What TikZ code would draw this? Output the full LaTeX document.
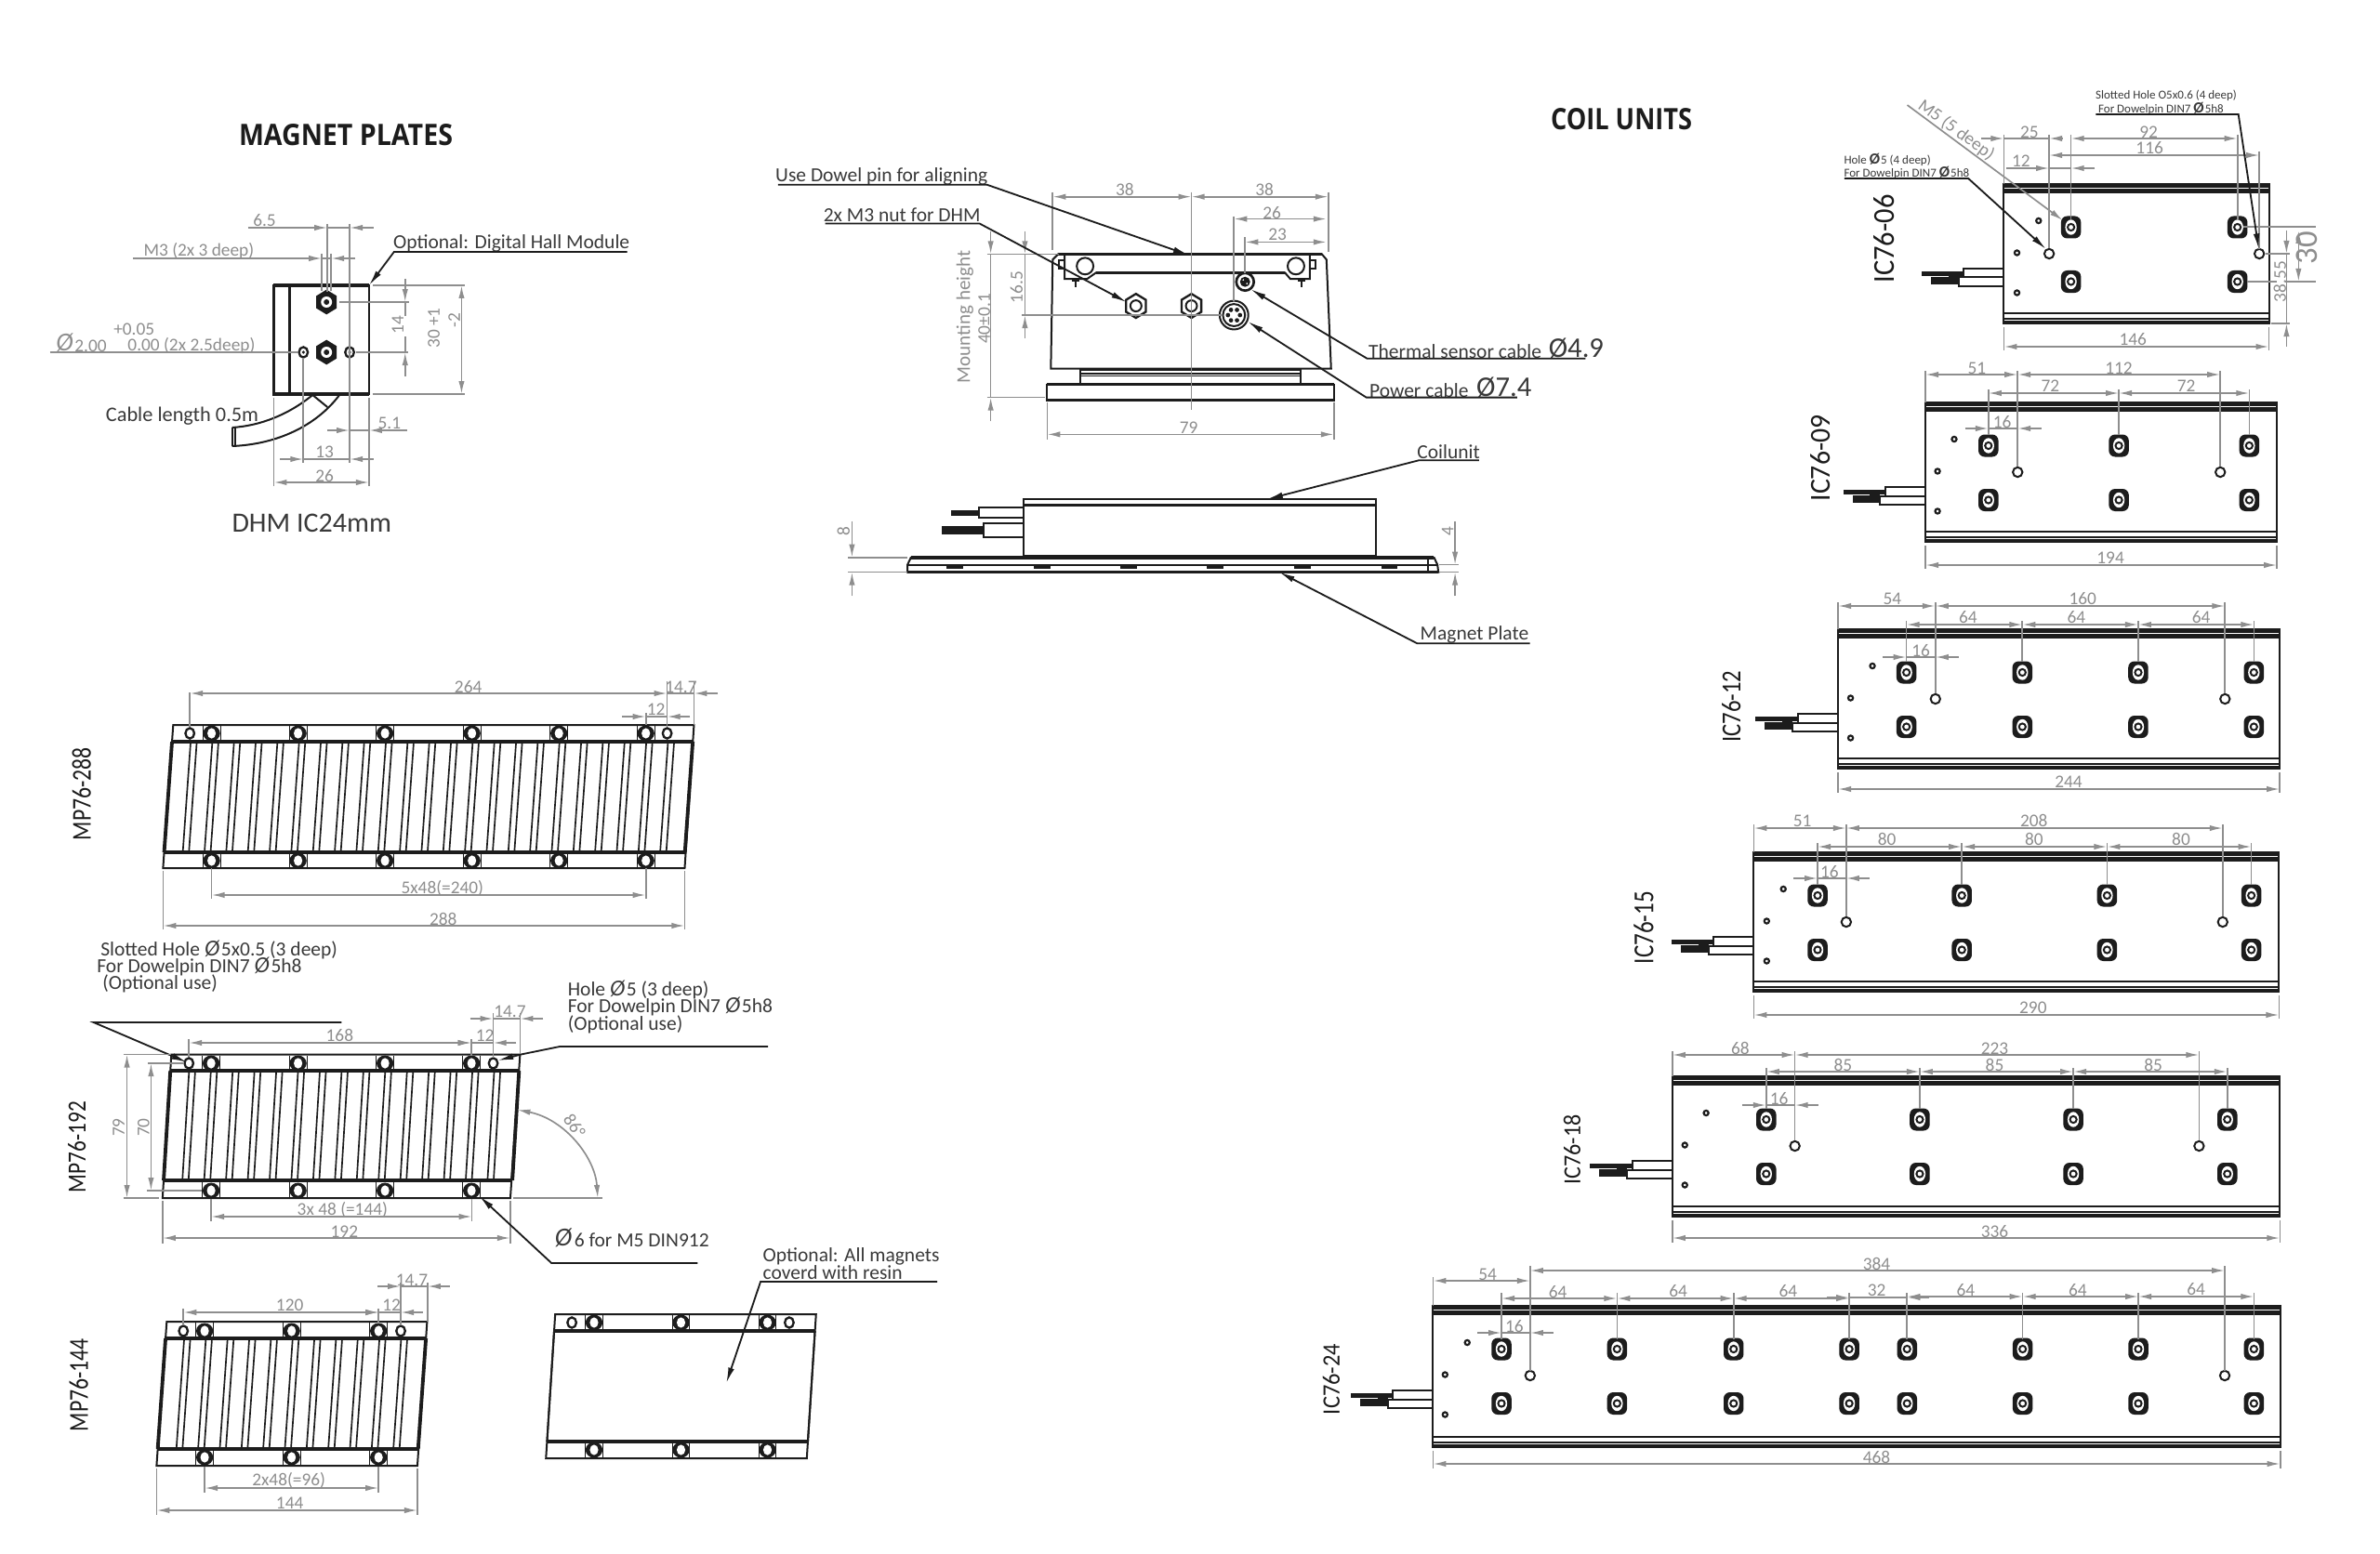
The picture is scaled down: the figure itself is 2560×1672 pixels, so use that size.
\documentclass[tikz,border=0pt]{standalone}
\usepackage{fontspec}
\usepackage{graphicx}
\usetikzlibrary{arrows.meta}
\setmainfont{Carlito}
\newfontfamily\rktitle{Open Sans}
\definecolor{dimc}{HTML}{8E8E8E}
\definecolor{inkc}{HTML}{1C1C1C}
\definecolor{txtc}{HTML}{3A3A3A}
\newcounter{rkn}
\tikzset{
 rkd/.tip={Latex[length=4.2pt,width=1.9pt]},
 rkb/.tip={Latex[length=5pt,width=2pt]},
 gl/.style={draw=dimc,line width=.5pt},
 dm/.style={gl,rkd-rkd},
 pk/.style={draw=inkc,line width=.6pt},
 hv/.style={draw=inkc,line width=.95pt},
 lead/.style={draw=inkc,line width=.55pt},
 rib/.style={draw=inkc,line width=.5pt},
 dimt/.style={text=dimc,inner sep=0pt,font=\fontsize{5.8}{6}\selectfont},
 blkt/.style={text=txtc,inner sep=0pt,font=\fontsize{6.45}{7.6}\selectfont},
 zoomA/.style={shift={(0,0)},xscale=.9949},
 zoomB/.style={shift={(4.08,.77)},xscale=.9949,yscale=.9949},
 zoomC/.style={shift={(.26,0)},xscale=.9949},
 zoomE/.style={shift={(9.95,0)},xscale=.9949},
 zoomF/.style={shift={(9.69,0)},xscale=.9949},
 zoomG/.style={shift={(8.98,0)},xscale=.9949},
 zoomH/.style={shift={(7.24,0)},xscale=.9949},
 zoomI/.style={shift={(8.47,0)},xscale=.9949},
}
\newcommand\rkPh{{\fontsize{7.4}{7}\selectfont\itshape Ø}}
\newcommand\rkPs{{\fontsize{5}{5}\selectfont\bfseries Ø}}
\newcommand\rkPx[1]{\dimexpr #1pt*3/10\relax}
% text helpers
\newcommand\rkD[4][]{\stepcounter{rkn}\node[dimt,#1] (n\arabic{rkn}) at (#2,#3) {#4};}
\newcommand\rkB[4][]{\stepcounter{rkn}\node[blkt,#1] (n\arabic{rkn}) at (#2,#3) {#4};}
\newcommand\rkLab[5]{\stepcounter{rkn}\node[inner sep=0pt,text=inkc,rotate=90] (n\arabic{rkn}) at (#1,#2) {\resizebox{\rkPx{#3}}{\rkPx{#4}}{#5}};}
% dimension helpers
\newcommand\rkDH[3]{\draw[dm] (#2,#1) -- (#3,#1);}
\newcommand\rkDV[3]{\draw[dm] (#1,#2) -- (#1,#3);}
\newcommand\rkDHo[5]{\draw[gl,-rkd] (#2,#1) -- (#3,#1);\draw[gl,-rkd] (#5,#1) -- (#4,#1);\draw[gl] (#3,#1) -- (#4,#1);}
\newcommand\rkDVo[5]{\draw[gl,-rkd] (#1,#2) -- (#1,#3);\draw[gl,-rkd] (#1,#5) -- (#1,#4);}
\newcommand\rkE[4]{\draw[gl] (#1,#2) -- (#3,#4);}
% plate
\newcommand\rkPlate[8]{%
 \pgfmathsetmacro\rkS{(#1-#3)/(#8-#5)}%
 \pgfmathsetmacro\rkXa{#1-\rkS*(#6-#5)}%
 \pgfmathsetmacro\rkXb{#1-\rkS*(#7-#5)}%
 \pgfmathsetmacro\rkW{#2-#1}%
 \def\rkYa{#6}\def\rkYb{#7}%
 \draw[pk] (#1,#5) -- (#2,#5) -- (#4,#8) -- (#3,#8) -- cycle;
 \draw[hv] (\rkXa,#6) -- (\rkXa+\rkW,#6);
 \draw[hv] (\rkXb,#7) -- (\rkXb+\rkW,#7);
}
\newcommand\rkRibs[1]{%
 \pgfmathsetmacro\rkP{\rkW/#1}%
 \pgfmathtruncatemacro\rkNm{#1-1}%
 \draw[hv,line width=1.15pt] (\rkXa,\rkYa) -- (\rkXb,\rkYb);
 \draw[hv,line width=1.15pt] (\rkXa+\rkW,\rkYa) -- (\rkXb+\rkW,\rkYb);
 \foreach \i in {1,...,\rkNm}{%
  \pgfmathsetmacro\rkUa{\rkXa+\i*\rkP}%
  \pgfmathsetmacro\rkUb{\rkXb+\i*\rkP}%
  \draw[rib] (\rkUa-3.3,\rkYa) -- (\rkUb-3.3,\rkYb);
  \draw[rib] (\rkUa+3.3,\rkYa) -- (\rkUb+3.3,\rkYb);
 }%
}
\newcommand\rkBolts[4]{%
 \foreach \x in {#1}{%
  \draw[rib,line width=.3pt] (\x-9.5,#3) -- (\x-9.5,#4);
  \draw[rib,line width=.3pt] (\x+9.5,#3) -- (\x+9.5,#4);
  \fill[inkc] (\x,#2) circle[x radius=9.2,y radius=8.4];
  \fill[white] (\x,#2) circle[x radius=4.6,y radius=5.6];
 }%
}
\newcommand\rkSmh[2]{\draw[hv,line width=.7pt,fill=white] (#1,#2) circle[x radius=4.8,y radius=5.6];}
% coil
\newcommand\rkCoil[8]{% xl xr yt yb pads d1,d2 sm1 sm2
 \draw[pk] (#1,#3) rectangle (#2,#4);
 \fill[inkc] (#1,#3-.5) rectangle (#2,#3+4);
 \draw[rib,line width=.5pt] (#1,#3+5.8) -- (#2,#3+5.8);
 \draw[hv,line width=.7pt] (#1,#3+8.5) -- (#2,#3+8.5);
 \draw[hv,line width=.7pt] (#1,#4-11) -- (#2,#4-11);
 \draw[rib,line width=.4pt] (#1,#4-5) -- (#2,#4-5);
 \fill[inkc] (#1,#4-3.5) rectangle (#2,#4+.5);
 \foreach \x in {#5}{\rkPad{\x}{#3+46.5}\rkPad{\x}{#3+105}}
 \foreach \x in {#6}{\draw[hv,line width=.6pt,fill=white] (\x,#3+75) circle[radius=5.2];}
 \rkTiny{#7}{#3+39.5}\rkTiny{#8}{#3+74}\rkTiny{#8}{#3+117}
 \draw[pk,fill=white] (#1-43.5,#3+91) rectangle (#1,#3+100.5);
 \draw[pk,fill=white] (#1-49,#3+100.5) rectangle (#1,#3+110);
 \fill[inkc] (#1-89,#3+94) rectangle (#1-43.5,#3+99);
 \fill[inkc] (#1-79,#3+99) rectangle (#1-49,#3+108);
 \draw[white,line width=.15pt] (#1-88,#3+99) -- (#1-60,#3+99);
}
\newcommand\rkPad[2]{%
 \fill[inkc,rounded corners=2pt] (#1-10.8,#2-12) rectangle (#1+10.8,#2+12);
 \fill[white] (#1,#2) circle[x radius=6.2,y radius=8.2];
 \draw[inkc,line width=.6pt,fill=white] (#1,#2) circle[radius=3.6];
}
\newcommand\rkTiny[2]{\draw[inkc,line width=.65pt,fill=white] (#1,#2) circle[radius=2.6];}
\newcommand\rkHex[4]{% x y r fill
 \draw[hv,line width=.7pt,fill=#4] (#1,#2-#3) -- (#1+.82*#3,#2-.5*#3) -- (#1+.82*#3,#2+.5*#3) -- (#1,#2+#3) -- (#1-.82*#3,#2+.5*#3) -- (#1-.82*#3,#2-.5*#3) -- cycle;
}
\begin{document}
\begin{tikzpicture}[x=0.3pt,y=-0.3pt]
\useasboundingbox (0,0) rectangle (2560,1672);
\fill[white] (0,0) rectangle (2560,1672);
% titles
\node[inner sep=0pt,text=inkc] (titleA) at (372,145) {\resizebox{\rkPx{230}}{\rkPx{23}}{\rktitle\bfseries MAGNET PLATES}};
\node[inner sep=0pt,text=inkc] (titleB) at (1744,128.5) {\resizebox{\rkPx{152}}{\rkPx{23}}{\rktitle\bfseries COIL UNITS}};
% ------------- DHM
\begin{scope}[zoomA]
\draw[pk] (296,307) rectangle (399,424);
\draw[hv,line width=1pt] (296,307) -- (296,424) -- (399,424);
\draw[hv] (296,307) -- (399,307);
\draw[hv,line width=1.1pt] (313,307) -- (313,424);
\draw[pk] (338,425) .. controls (312,446) and (282,458) .. (251,460);
\draw[pk] (367,425) .. controls (342,458) and (300,478) .. (251,480);
\draw[pk] (251,460) -- (251,480);\draw[pk] (254,460) -- (254,480);
\draw[pk] (338,425) -- (354,438);
\rkHex{353}{325}{12}{inkc}\fill[white] (353,325) circle[radius=6];\fill[inkc] (353,325) circle[radius=3];
\rkHex{353}{379}{12}{inkc}\fill[white] (353,379) circle[radius=6];\fill[inkc] (353,379) circle[radius=3];
\rkSmh{328}{379}\rkSmh{378}{379}
\fill[inkc] (328,379) circle[radius=1.8];\fill[inkc] (378,379) circle[radius=1.8];
\rkE{354}{241}{354}{314}\rkE{378}{241}{378}{498}
\rkE{348}{273}{348}{313}\rkE{358}{273}{358}{313}
\rkE{328}{385}{328}{498}
\rkDHo{245}{268}{354}{378}{404}
\rkDHo{278}{144}{348}{358}{384}
\rkD{286}{237}{6.5}
\rkD{215}{270}{M3 (2x 3 deep)}
\rkB{553}{262}{Optional: Digital Hall Module}
\draw[lead,-rkb] (678,271) -- (426,271) -- (399,307);
\rkE{403}{307}{503}{307}\rkE{403}{424}{503}{424}
\rkDV{499}{307}{424}
\rkD[rotate=90]{469}{353}{30 +1}
\rkD[rotate=90]{491}{345}{-2}
\rkE{367}{325}{442}{325}\rkE{385}{379}{441}{379}
\rkDVo{438}{300}{325}{379}{405}
\draw[gl] (438,325) -- (438,379);
\fill[white] (428,340) rectangle (444,362);
\rkD[rotate=90]{430}{350}{14}
\rkD{145}{354}{+0.05}
\rkB[text=dimc,font=\fontsize{8.4}{8}\selectfont\itshape]{70}{369}{Ø}
\rkD{98}{372}{2.00}
\rkD{207}{372}{0.00 (2x 2.5deep)}
\rkE{54}{379}{322}{379}
\rkB[font=\fontsize{6.7}{8}\selectfont]{197}{448}{Cable length 0.5m}
\rkE{296}{428}{296}{523}\rkE{399}{428}{399}{523}
\rkDHo{463}{354}{378}{399}{440}
\rkD{421}{455}{5.1}
\rkDHo{494}{303}{328}{378}{404}
\rkD{351}{486}{13}
\rkDH{519}{296}{399}
\rkD{351}{512}{26}
\rkB[font=\fontsize{9}{10}\selectfont]{337}{563}{DHM IC24mm}
\end{scope}
% ------------- Centre front view
\begin{scope}[zoomB]
\draw[pk] (1147,274) -- (1425,274) -- (1430,280) -- (1435,398) -- (1132,398) -- (1134,280) -- (1140,274) -- cycle;
\draw[hv,line width=.8pt] (1140,274) -- (1425,274);
\draw[pk] (1147,274) -- (1147,301) -- (1171,301) -- (1181,294) -- (1385,294) -- (1391,301) -- (1412,301) -- (1412,274);
\draw[hv,line width=.75pt] (1181,294) -- (1385,294);
\draw[pk] (1169,287) circle[x radius=9,y radius=9];
\draw[pk] (1397,287) circle[x radius=9,y radius=9];
\fill[inkc] (1155,301) rectangle (1163,304);\draw[pk] (1159,304) -- (1159,310);
\fill[inkc] (1399,301) rectangle (1407,304);\draw[pk] (1403,304) -- (1403,310);
\draw[pk] (1141,281) rectangle (1147,290);\draw[pk] (1412,281) rectangle (1418,290);
\draw[pk] (1164,399) rectangle (1402,415);
\draw[pk] (1165,403) -- (1401,403);\draw[rib,line width=.4pt] (1165,406) -- (1401,406);
\draw[pk] (1128,415) rectangle (1438,432);
\draw[hv,line width=.8pt] (1128,415) -- (1438,415);\draw[hv,line width=.8pt] (1128,432) -- (1438,432);
\rkHex{1224}{330}{13}{white}\draw[pk] (1224,330) circle[radius=6];
\rkHex{1284}{330}{13}{white}\draw[pk] (1284,330) circle[radius=6];
\draw[pk] (1330,340) circle[radius=15.5];\draw[pk] (1330,340) circle[radius=12];
\foreach \a in {0,60,...,300}{\fill[inkc] (1330,340) ++(\a:6.5) circle[radius=2.4];}
\draw[pk,line width=.8pt] (1342,304) circle[radius=9.5];\fill[inkc] (1342,304) circle[radius=5.5];
\fill[white] (1340,302) circle[radius=1];\fill[white] (1344,306) circle[radius=1];
\rkE{1284}{207}{1284}{442}
\rkE{1134}{207}{1134}{270}\rkE{1432}{207}{1432}{272}
\rkE{1330}{233}{1330}{325}\rkE{1342}{256}{1342}{295}
\rkDH{212}{1134}{1284}\rkDH{212}{1284}{1432}
\rkDH{236}{1330}{1430}\rkDH{261}{1342}{1430}
\rkD{1212}{204}{38}\rkD{1363}{204}{38}\rkD{1371}{229}{26}\rkD{1377}{253}{23}
\rkE{1063}{274}{1141}{274}\rkE{1063}{429}{1126}{429}
\rkDVo{1067}{249}{274}{429}{455}
\draw[gl] (1067,274) -- (1067,429);
\rkE{1101}{340}{1318}{340}
\rkDVo{1104}{249}{274}{340}{365}
\draw[gl] (1104,274) -- (1104,340);
\rkD[rotate=90]{1039}{342}{\fontsize{6.3}{6}\selectfont Mounting height}
\rkD[rotate=90]{1060}{344}{40±0.1}
\rkD[rotate=90]{1095}{310}{16.5}
\rkE{1128}{434}{1128}{475}\rkE{1438}{434}{1438}{475}
\rkDH{469}{1128}{1438}
\rkD{1281}{462}{79}
\rkB{949}{190}{Use Dowel pin for aligning}
\draw[lead,-rkb] (837,199) -- (1063,199) -- (1281,275);
\rkB{971}{232}{2x M3 nut for  DHM}
\draw[lead,-rkb] (888,241) -- (1055,241) -- (1214,326);
\rkB{1569}{379}{Thermal sensor cable}
\rkB[font=\fontsize{9.2}{10}\selectfont]{1700}{376}{Ø4.9}
\draw[lead,-rkb] (1710,387) -- (1474,387) -- (1348,312);
\rkB{1530}{421}{Power cable}
\rkB[font=\fontsize{9.2}{10}\selectfont]{1622}{418}{Ø7.4}
\draw[lead,-rkb] (1636,429) -- (1473,429) -- (1345,347);
% ------------- Side view
\draw[pk] (1103,539) rectangle (1483,600);
\draw[hv,line width=.7pt] (1103,539) -- (1483,539);
\draw[pk] (1103,546) -- (1483,546);\draw[rib,line width=.3pt] (1103,544) -- (1483,544);
\draw[pk] (1054,548) rectangle (1103,559);
\draw[pk] (1059,565) rectangle (1103,580);
\fill[inkc] (1024,551) rectangle (1054,557);
\fill[inkc] (1014,568) rectangle (1059,577);
\draw[pk] (981,601.5) -- (1546,601.5);
\fill[inkc] (981,600) rectangle (1546,604);
\draw[pk] (981,601.5) -- (977,610) -- (977,618) -- (1551,618) -- (1550,610) -- (1546,601.5);
\draw[pk] (977,610) -- (1550,610);
\draw[pk] (1540,604) -- (1540,618);
\draw[hv,line width=.75pt] (977,618) -- (1551,618);
\foreach \x in {1019,1114,1207,1301,1395,1489}{\fill[inkc] (\x,610) rectangle (\x+18,614);}
\rkE{913}{602}{977}{602}\rkE{913}{618}{977}{618}
\rkDVo{917}{563}{602}{618}{644}
\rkD[rotate=90]{908}{574}{8}
\rkE{1552}{610}{1573}{610}\rkE{1552}{618}{1573}{618}
\rkDVo{1569}{563}{610}{618}{644}
\rkD[rotate=90]{1561}{574}{4}
\rkB{1562}{488}{Coilunit}
\draw[lead,-rkb] (1595,497) -- (1530,497) -- (1366,539);
\rkB{1590}{686}{Magnet Plate}
\draw[lead,-rkb] (1650,695) -- (1528,695) -- (1379,618);
\end{scope}
\begin{scope}[zoomC]
% ------------- MP76-288
\rkPlate{187}{750}{176}{740}{780}{798}{917}{934}
\rkRibs{24}
\rkBolts{228.5,322,416,510,604,698}{789}{781}{797}
\rkBolts{228.5,322,416,510,604,698}{926}{918}{934}
\rkSmh{205}{789}\rkSmh{721}{789}
\rkE{205}{745}{205}{782}\rkE{721}{733}{721}{782}\rkE{750}{733}{750}{780}\rkE{698}{767}{698}{780}
\draw[gl,rkd-rkd] (205,746) -- (721,746);
\draw[gl,-rkd] (776,746) -- (750,746);
\draw[gl] (750,746) -- (721,746);
\rkDHo{771}{672}{698}{721}{746}
\rkD{506}{739}{264}\rkD{736}{739}{14.7}\rkD{709}{763}{12}
\rkE{228.5}{934}{228.5}{967}\rkE{698}{934}{698}{967}
\rkDH{963}{228.5}{698}
\rkD{478}{956}{5x48(=240)}
\rkE{176}{937}{176}{1000}\rkE{740}{937}{740}{1000}
\rkDH{996}{176}{740}
\rkD{479}{989}{288}
\rkLab{88}{854}{100}{20}{MP76-288}
% texts
\rkB[anchor=west]{108}{1022}{Slotted Hole \rkPh\hspace{.5pt}5x0.5 (3 deep)}
\rkB[anchor=west]{104}{1040}{For Dowelpin DIN7 \rkPh\hspace{.5pt}5h8}
\rkB[anchor=west]{110}{1058}{(Optional use)}
\rkB[anchor=west]{613}{1065}{Hole \rkPh\hspace{.5pt}5 (3 deep)}
\rkB[anchor=west]{613}{1083}{For Dowelpin DIN7 \rkPh\hspace{.5pt}5h8}
\rkB[anchor=west]{613}{1102}{(Optional use)}
% ------------- MP76-192
\rkPlate{185}{562}{175.5}{551.5}{1134.5}{1152}{1270}{1289}
\rkRibs{16}
\rkBolts{228,322,416,509.5}{1144}{1136}{1151}
\rkBolts{228,322,416,509.5}{1281}{1272}{1288}
\rkSmh{204}{1144}\rkSmh{533}{1144}
\draw[lead,-rkb] (369,1100) -- (101,1100) -- (202,1143);
\draw[lead,-rkb] (830,1126) -- (605,1126) -- (563,1134.5) -- (538,1141);
\rkE{204}{1118}{204}{1137}\rkE{509}{1118}{509}{1136}\rkE{533}{1090}{533}{1138}\rkE{562}{1090}{562}{1134}
\draw[gl,rkd-rkd] (204,1122) -- (509,1122);
\rkDHo{1122}{482}{509}{533}{558}
\rkDHo{1096}{508}{533}{562}{587}
\rkD{367}{1114}{168}\rkD{524}{1114}{12}\rkD{551}{1088}{14.7}
\rkE{133}{1134.5}{185}{1134.5}\rkE{133}{1289}{172}{1289}
\rkDV{137}{1134.5}{1289}
\rkE{160}{1144}{199}{1144}\rkE{159}{1281}{218}{1281}
\rkDV{163}{1144}{1281}
\rkD[rotate=90]{128}{1213}{79}\rkD[rotate=90]{155}{1213}{70}
\rkE{228}{1290}{228}{1314}\rkE{510}{1290}{510}{1314}
\rkDH{1309}{228}{510}
\rkD{370}{1302}{3x 48 (=144)}
\rkE{175.5}{1292}{175.5}{1338}\rkE{551.5}{1292}{551.5}{1338}
\rkDH{1332}{175.5}{551.5}
\rkD{372}{1325}{192}
\rkE{555}{1289}{651}{1289}
\draw[gl,rkd-rkd] (559,1194) .. controls (610,1204) and (643,1245) .. (646,1289);
\rkD[rotate=-55]{621}{1211}{86°}
\rkB[font=\fontsize{8.4}{8}\selectfont\itshape]{609}{1332}{Ø}
\rkB[anchor=west]{620}{1334}{6 for M5 DIN912}
\draw[lead,-rkb] (754,1359) -- (596,1359) -- (518,1287);
\rkLab{83}{1234}{98}{19}{MP76-192}
% ------------- MP76-144
\rkPlate{180}{461.5}{169}{451}{1422}{1440}{1559}{1577}
\rkRibs{12}
\rkBolts{221,315,409}{1432}{1423}{1439}
\rkBolts{221,315,409}{1568}{1560}{1576}
\rkSmh{198}{1432}\rkSmh{433}{1432}
\rkE{198}{1408}{198}{1426}\rkE{409}{1408}{409}{1423}\rkE{433}{1380}{433}{1426}\rkE{462}{1380}{462}{1422}
\rkDH{1412}{198}{409}
\rkDHo{1412}{385}{409}{433}{457}
\rkDHo{1384}{408}{433}{462}{486}
\rkD{313}{1404}{120}\rkD{423}{1404}{12}\rkD{445}{1377}{14.7}
\rkE{221}{1578}{221}{1606}\rkE{409}{1578}{409}{1606}
\rkDH{1601}{221}{409}
\rkD{312}{1593}{2x48(=96)}
\rkE{169}{1580}{169}{1630}\rkE{451}{1580}{451}{1630}
\rkDH{1625}{169}{451}
\rkD{313}{1617}{144}
\rkLab{85}{1490}{100}{20}{MP76-144}
% ------------- Resin plate
\rkPlate{600}{882}{590}{872}{1414}{1432}{1551}{1569}
\draw[pk] (\rkXa,1432) -- (\rkXb,1551);\draw[pk] (\rkXa+\rkW,1432) -- (\rkXb+\rkW,1551);
\rkBolts{642,736,829.5}{1423}{1415}{1431}
\rkBolts{642,736,829.5}{1560}{1552}{1568}
\rkSmh{618}{1423}\rkSmh{853}{1423}
\rkB[anchor=west]{824}{1352}{Optional: All magnets}
\rkB[anchor=west]{824}{1369}{coverd with resin}
\draw[lead,-rkb] (1013,1379) -- (822,1379) -- (785,1488);
\end{scope}
% ------------- IC76-06
\begin{scope}[zoomE]
\rkCoil{2156.5}{2443}{198}{348}{2229,2409}{2205.4,2432.6}{2194}{2170.6}
\rkE{2156.5}{145}{2156.5}{198}\rkE{2205.4}{145}{2205.4}{267}\rkE{2229}{145}{2229}{236}\rkE{2409}{145}{2409}{236}\rkE{2432.6}{163}{2432.6}{268}
\rkDHo{149}{2132}{2156.5}{2205.4}{2220}
\draw[gl,rkd-rkd] (2229,149) -- (2409,149);
\rkDH{167}{2205.4}{2432.6}
\rkDHo{181}{2159}{2205.4}{2229}{2255}
\rkD{2184}{142}{25}\rkD{2313}{142}{92}\rkD{2314}{159}{116}\rkD{2175}{173}{12}
\rkE{2156.5}{352}{2156.5}{377}\rkE{2443}{352}{2443}{377}
\rkDH{373}{2156.5}{2443}
\rkD{2296}{365}{146}
\rkE{2415}{244}{2494}{244}\rkE{2419}{303}{2494}{303}
\rkDV{2475}{248}{303}
\rkE{2439}{273}{2466}{273}\rkE{2445}{348}{2466}{348}
\rkDVo{2462}{248}{273}{348}{373}
\draw[gl] (2462,273) -- (2462,348);
\fill[white] (2452,285) rectangle (2461,322);
\rkD[rotate=90]{2455}{303}{38.55}
\rkD[rotate=90,font=\fontsize{10.4}{11}\selectfont]{2484}{267}{30}
\draw[gl,-rkd] (2052,113) -- (2220,237);
\rkD[rotate=-36]{2105}{140}{M5 (5 deep)}
\rkB[anchor=west,font=\fontsize{3.9}{4}\selectfont]{1983}{172}{Hole \rkPs\hspace{.3pt}5 (4 deep)}
\rkB[anchor=west,font=\fontsize{3.9}{4}\selectfont]{1983}{186}{For Dowelpin DIN7 \rkPs\hspace{.3pt}5h8}
\draw[lead,-rkb] (1984,192) -- (2118,192) -- (2202,268);
\rkB[anchor=west,font=\fontsize{3.9}{4}\selectfont]{2255}{103}{Slotted Hole O5x0.6 (4 deep)}
\rkB[anchor=west,font=\fontsize{3.9}{4}\selectfont]{2258}{117}{For Dowelpin DIN7 \rkPs\hspace{.3pt}5h8}
\draw[lead,-rkb] (2256,123) -- (2410,123) -- (2432,268);
\rkLab{2027}{257}{95}{22}{IC76-06}
\end{scope}
\begin{scope}[zoomF]
% ------------- IC76-09
\rkCoil{2072}{2452}{433}{583}{2140,2281,2422}{2171.6,2390.7}{2103}{2085}
\rkE{2072}{399}{2072}{433}\rkE{2171.6}{399}{2171.6}{502}\rkE{2390.7}{399}{2390.7}{502}
\foreach \x in {2140,2281,2422}{\rkE{\x}{419}{\x}{468}}
\rkDH{403}{2072}{2171.6}\rkDH{403}{2171.6}{2390.7}
\rkDH{423}{2140}{2281}\rkDH{423}{2281}{2422}
\rkDHo{461}{2115}{2140}{2171.6}{2197}
\rkD{2127.6}{396}{51}\rkD{2281}{396}{112}\rkD{2207}{415}{72}\rkD{2354}{415}{72}\rkD{2155}{454}{16}
\rkE{2072}{587}{2072}{612}\rkE{2452}{587}{2452}{612}
\rkDH{608}{2072}{2452}
\rkD{2272}{600}{194}
\rkLab{1958}{493}{93}{21}{IC76-09}
% ------------- IC76-12
\rkCoil{1977.4}{2455}{677}{827}{2051.4,2176.7,2302,2427}{2082.7,2395.8}{2014.6}{1991}
\rkE{1977.4}{648}{1977.4}{677}\rkE{2082.7}{648}{2082.7}{746}\rkE{2395.8}{648}{2395.8}{746}
\foreach \x in {2051.4,2176.7,2302,2427}{\rkE{\x}{668}{\x}{712}}
\rkDH{652}{1977.4}{2082.7}\rkDH{652}{2082.7}{2395.8}
\rkDH{672}{2051.4}{2176.7}\rkDH{672}{2176.7}{2302}\rkDH{672}{2302}{2427}
\rkDHo{707}{2026}{2051.4}{2082.7}{2108}
\rkD{2036}{644}{54}\rkD{2242}{644}{160}\rkD{2118}{664}{64}\rkD{2235}{664}{64}\rkD{2370}{664}{64}\rkD{2067}{700}{16}
\rkE{1977.4}{831}{1977.4}{853}\rkE{2455}{831}{2455}{853}
\rkDH{849}{1977.4}{2455}
\rkD{2226.6}{841}{244}
\rkLab{1862}{760}{77}{20}{IC76-12}
\end{scope}
% ------------- IC76-15
\begin{scope}[zoomG]
\rkCoil{1887}{2455}{917}{1067}{1956,2112,2269,2425}{1987,2394}{1919}{1901}
\rkE{1887}{887}{1887}{917}\rkE{1987}{887}{1987}{986}\rkE{2394}{887}{2394}{986}
\foreach \x in {1956,2112,2269,2425}{\rkE{\x}{907}{\x}{952}}
\rkDH{891}{1887}{1987}\rkDH{891}{1987}{2394}
\rkDH{911}{1956}{2112}\rkDH{911}{2112}{2269}\rkDH{911}{2269}{2425}
\rkDHo{945}{1930}{1956}{1987}{2012}
\rkD{1939.5}{883}{51}\rkD{2190}{883}{208}\rkD{2031}{903}{80}\rkD{2190}{903}{80}\rkD{2349}{903}{80}\rkD{1969}{938}{16}
\rkE{1887}{1071}{1887}{1096}\rkE{2455}{1071}{2455}{1096}
\rkDH{1092}{1887}{2455}
\rkD{2189}{1084}{290}
\rkLab{1768}{998}{78}{21}{IC76-15}
\end{scope}
% ------------- IC76-18
\begin{scope}[zoomI]
\rkCoil{1799.5}{2456.4}{1158}{1309}{1901,2067,2233,2399.5}{1932,2369}{1836}{1813}
\rkE{1799.5}{1131}{1799.5}{1158}\rkE{1932}{1131}{1932}{1227}\rkE{2369}{1131}{2369}{1227}
\foreach \x in {1901,2067,2233,2399.5}{\rkE{\x}{1149}{\x}{1193}}
\rkDH{1135}{1799.5}{1932}\rkDH{1135}{1932}{2369}
\rkDH{1153}{1901}{2067}\rkDH{1153}{2067}{2233}\rkDH{1153}{2233}{2399.5}
\rkDHo{1189}{1875}{1901}{1932}{1957}
\rkD{1873}{1128}{68}\rkD{2148}{1128}{223}\rkD{1984}{1146}{85}\rkD{2148}{1146}{85}\rkD{2319.5}{1146}{85}\rkD{1915}{1182}{16}
\rkE{1799.5}{1313}{1799.5}{1337}\rkE{2456.4}{1313}{2456.4}{1337}
\rkDH{1332}{1799.5}{2456.4}
\rkD{2148}{1325}{336}
\rkLab{1691}{1237}{75}{18}{IC76-18}
\end{scope}
% ------------- IC76-24
\begin{scope}[zoomH]
\rkCoil{1542}{2458}{1405}{1557}{1616,1741,1867,1992,2054.5,2179.5,2304.5,2429.5}{1647,2398}{1579}{1555}
\rkE{1542}{1374}{1542}{1405}\rkE{1647}{1362}{1647}{1475}\rkE{2398}{1362}{2398}{1475}
\foreach \x in {1616,1741,1867,1992,2054.5,2179.5,2304.5,2429.5}{\rkE{\x}{1391}{\x}{1441}}
\rkDH{1378}{1542}{1647}
\rkDH{1367}{1647}{2398}
\rkDH{1397}{1616}{1741}\rkDH{1397}{1741}{1867}\rkDH{1397}{1867}{1992}
\rkDHo{1396}{1968}{1992}{2054.5}{2078}
\rkDH{1395}{2054.5}{2179.5}\rkDH{1395}{2179.5}{2304.5}\rkDH{1395}{2304.5}{2429.5}
\rkDHo{1434}{1590}{1616}{1647}{1672}
\rkD{1601}{1371}{54}\rkD{2021.6}{1360}{384}\rkD{1677}{1390}{64}\rkD{1807}{1389}{64}\rkD{1926}{1389}{64}\rkD{2021.6}{1388}{32}\rkD{2118}{1388}{64}\rkD{2239}{1388}{64}\rkD{2367}{1387}{64}\rkD{1630}{1427}{16}
\rkE{1542}{1561}{1542}{1580}\rkE{2458}{1561}{2458}{1580}
\rkDH{1575}{1542}{2458}
\rkD{2021.6}{1568}{468}
\rkLab{1432}{1484}{76}{18}{IC76-24}
\end{scope}
\end{tikzpicture}
\end{document}
